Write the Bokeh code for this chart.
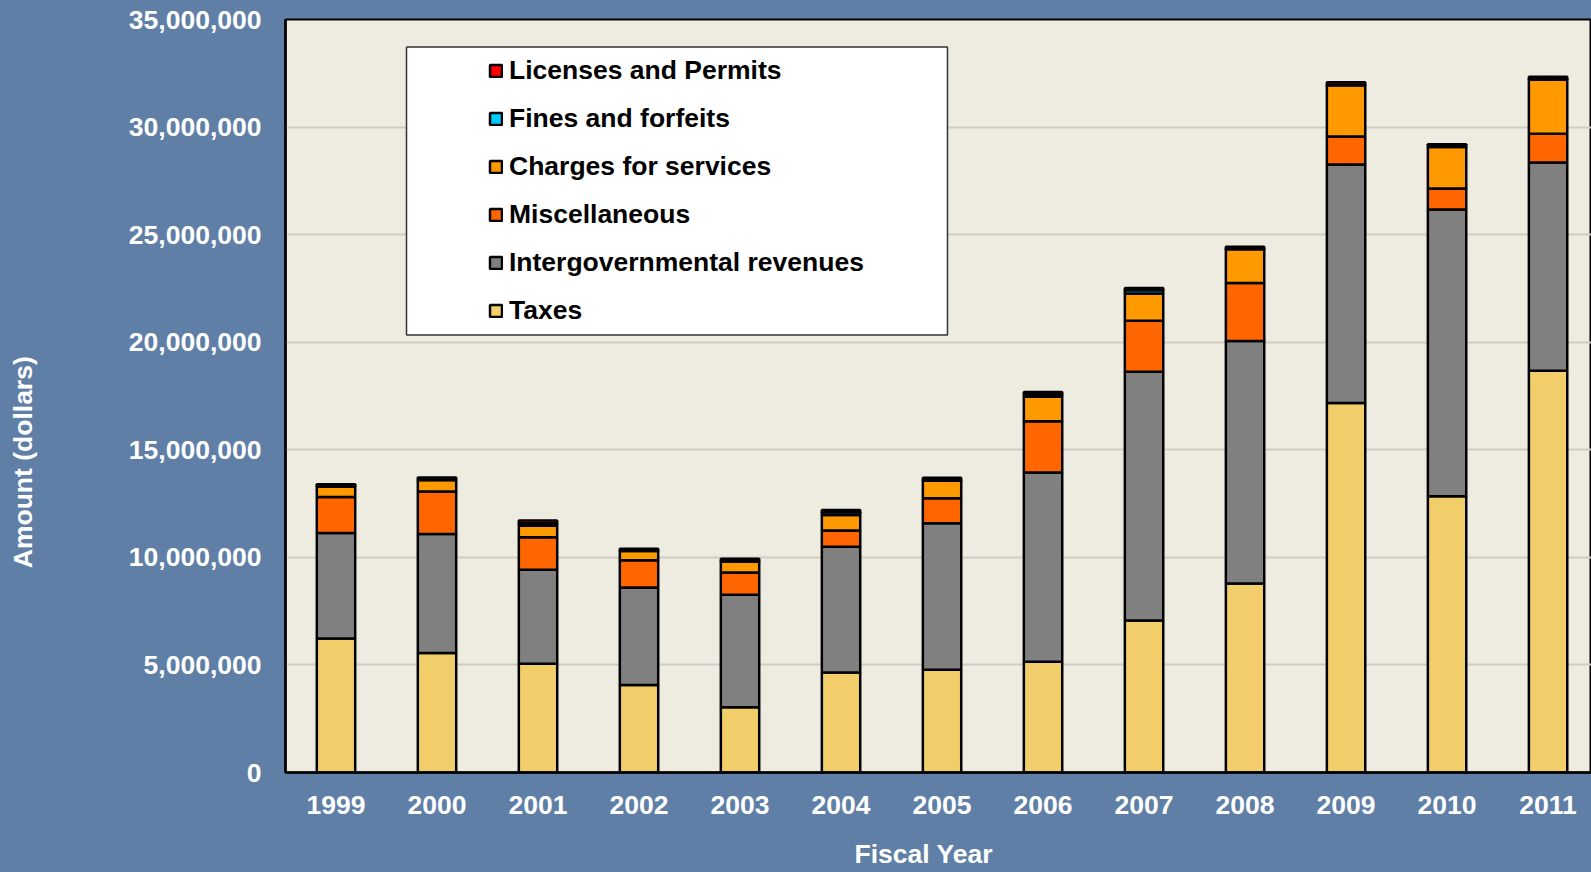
from bokeh.plotting import figure
from bokeh.models import (Range1d, FixedTicker, NumeralTickFormatter, Legend, LegendItem,
                          BoxAnnotation, ColumnDataSource)
from bokeh.embed import file_html
from bokeh.resources import INLINE

# ---------------- data (dollars) ----------------
years = ["1999", "2000", "2001", "2002", "2003", "2004", "2005",
         "2006", "2007", "2008", "2009", "2010", "2011"]
taxes = [6230000, 5550000, 5060000, 4070000, 3030000, 4650000, 4780000,
         5150000, 7070000, 8780000, 17180000, 12840000, 18670000]
intergovernmental = [4900000, 5530000, 4360000, 4530000, 5230000, 5840000, 6800000,
                     8790000, 11560000, 11280000, 11080000, 13330000, 9680000]
miscellaneous = [1680000, 1980000, 1510000, 1270000, 1040000, 760000, 1170000,
                 2390000, 2370000, 2690000, 1300000, 980000, 1340000]
charges = [480000, 530000, 540000, 420000, 510000, 720000, 810000,
           1130000, 1260000, 1570000, 2380000, 1920000, 2520000]
fines = [10000, 10000, 120000, 20000, 20000, 130000, 20000,
         120000, 150000, 20000, 20000, 20000, 20000]
licenses = [100000, 110000, 120000, 90000, 110000, 100000, 120000,
            110000, 110000, 100000, 120000, 110000, 110000]

series_keys = ["taxes", "intergov", "misc", "charges", "fines", "licenses"]
series_names = ["Taxes", "Intergovernmental revenues", "Miscellaneous",
                "Charges for services", "Fines and forfeits", "Licenses and Permits"]
series_colors = ["#F2CE6A", "#808080", "#FF6600", "#FF9900", "#00CCFF", "#FF0000"]
y_ticks = [0, 5000000, 10000000, 15000000, 20000000, 25000000, 30000000, 35000000]
x_title = "Fiscal Year"
y_title = "Amount (dollars)"

# ---------------- figure ----------------
BLUE = "#5F7FA7"
FONT = "Liberation Sans"
FSIZE = "26.5px"
NBSP = "\u00a0"

xpos = list(range(len(years)))
src = ColumnDataSource(dict(x=xpos, taxes=taxes, intergov=intergovernmental,
                            misc=miscellaneous, charges=charges, fines=fines,
                            licenses=licenses))

p = figure(width=1591, height=872,
           x_range=Range1d(-0.5, 12.43), y_range=Range1d(0, 35000000),
           output_backend="svg", toolbar_location=None,
           min_border_left=285, min_border_right=0,
           min_border_top=19, min_border_bottom=100)
p.background_fill_color = "#EEEBE0"
p.border_fill_color = BLUE
p.outline_line_color = "black"
p.outline_line_width = 2

renderers = p.vbar_stack(series_keys, x="x", width=0.38, source=src,
                         fill_color=series_colors, line_color="black", line_width=2.5)

# grid
p.xgrid.visible = False
p.ygrid.grid_line_color = "#CFCCC3"
p.ygrid.grid_line_width = 2

# y axis
p.yaxis.ticker = FixedTicker(ticks=y_ticks)
p.yaxis.formatter = NumeralTickFormatter(format="0,0")
p.yaxis.major_label_text_color = "white"
p.yaxis.major_label_text_font = FONT
p.yaxis.major_label_text_font_style = "bold"
p.yaxis.major_label_text_font_size = FSIZE
p.yaxis.major_tick_out = 0
p.yaxis.major_tick_in = 0
p.yaxis.minor_tick_line_color = None
p.yaxis.major_label_standoff = 24
p.yaxis.axis_line_color = "black"
p.yaxis.axis_line_width = 2.5
p.yaxis.axis_label = y_title + NBSP * 18
p.yaxis.axis_label_text_color = "white"
p.yaxis.axis_label_text_font = FONT
p.yaxis.axis_label_text_font_style = "bold"
p.yaxis.axis_label_text_font_size = FSIZE
p.yaxis.axis_label_standoff = 88

# x axis
p.xaxis.ticker = FixedTicker(ticks=xpos)
p.xaxis.major_label_overrides = {i: y for i, y in enumerate(years)}
p.xaxis.major_label_text_color = "white"
p.xaxis.major_label_text_font = FONT
p.xaxis.major_label_text_font_style = "bold"
p.xaxis.major_label_text_font_size = FSIZE
p.xaxis.major_tick_out = 0
p.xaxis.major_tick_in = 0
p.xaxis.minor_tick_line_color = None
p.xaxis.major_label_standoff = 23
p.xaxis.axis_line_color = "black"
p.xaxis.axis_line_width = 2.5
p.xaxis.axis_label = x_title + NBSP * 4
p.xaxis.axis_label_text_color = "white"
p.xaxis.axis_label_text_font = FONT
p.xaxis.axis_label_text_font_style = "bold"
p.xaxis.axis_label_text_font_size = FSIZE
p.xaxis.axis_label_standoff = 22

# legend box
p.add_layout(BoxAnnotation(left=0.698, right=6.054, top=33720000, bottom=20340000,
                           fill_color="white", fill_alpha=1.0,
                           line_color="#333333", line_alpha=1.0, line_width=1.5))

items = [LegendItem(label=n, renderers=[r])
         for n, r in reversed(list(zip(series_names, renderers)))]
legend = Legend(items=items, location=(203, 438), padding=0, spacing=0, margin=0,
                label_height=48, glyph_width=15, glyph_height=15, label_standoff=6,
                border_line_color=None, background_fill_alpha=0,
                label_text_font=FONT, label_text_font_style="bold",
                label_text_font_size=FSIZE, label_text_color="black")
p.add_layout(legend)

html = file_html(p, INLINE)
html = html.replace("</head>", "<style>html,body{background:%s;}</style></head>" % BLUE, 1)
open("out.html", "w").write(html)
